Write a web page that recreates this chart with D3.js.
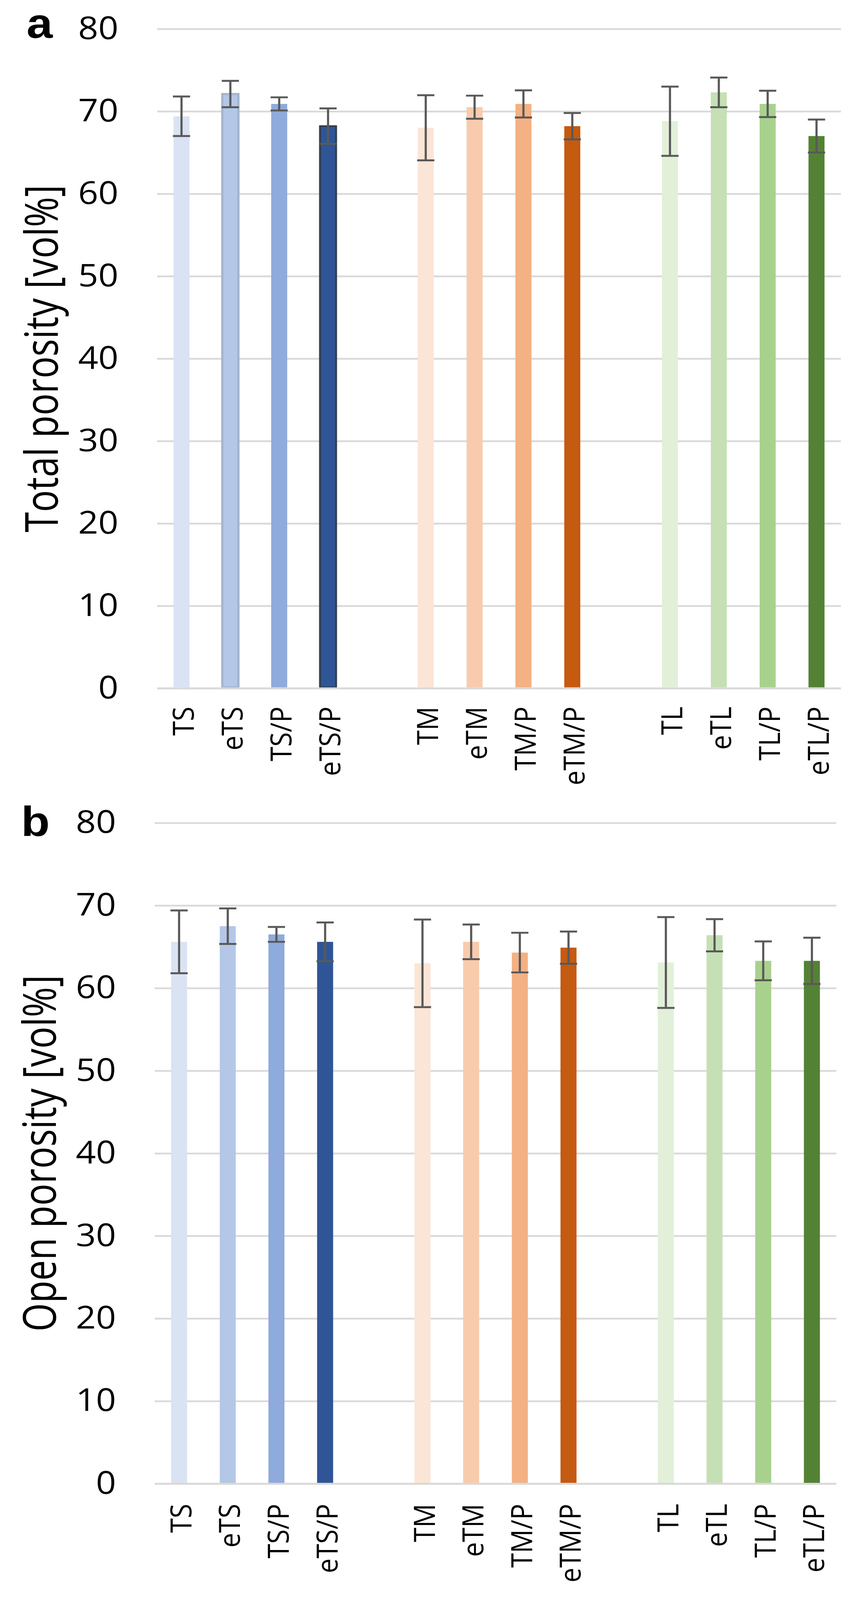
<!DOCTYPE html>
<html>
<head>
<meta charset="utf-8">
<script src="https://cdn.jsdelivr.net/npm/d3@7"></script>
<style>
  html, body { margin: 0; padding: 0; background: #ffffff; overflow: hidden; }
  svg { display: block; }
</style>
</head>
<body>
<div id="chart"></div>
<script>
// ---------------- data ----------------
const sampleLabels = ["TS", "eTS", "TS/P", "eTS/P", "TM", "eTM", "TM/P", "eTM/P", "TL", "eTL", "TL/P", "eTL/P"];
const groupSize = 4;
const yTicks = [0, 10, 20, 30, 40, 50, 60, 70, 80];

const totalPorosity = [69.4, 72.1, 70.9, 68.2, 68.0, 70.5, 70.9, 68.2, 68.8, 72.3, 70.9, 67.0];
const totalPorosityErr = [2.4, 1.6, 0.8, 2.15, 3.95, 1.4, 1.65, 1.6, 4.2, 1.8, 1.6, 2.0];

const openPorosity = [65.6, 67.5, 66.5, 65.6, 63.0, 65.6, 64.3, 64.9, 63.1, 66.4, 63.3, 63.3];
const openPorosityErr = [3.8, 2.15, 0.9, 2.35, 5.3, 2.1, 2.4, 1.95, 5.5, 1.95, 2.35, 2.8];

// ---------------- styles ----------------
const barColors = ["#DAE3F3", "#B4C7E7", "#8FAADC", "#2F5597",
                   "#FBE5D6", "#F8CBAD", "#F4B183", "#C55A11",
                   "#E2F0D9", "#C5E0B4", "#A9D18E", "#548235"];
const outlineA = { "eTS": "#A6B5CF", "eTS/P": "#333F50" };

const W = 2188, H = 4540;
const FONT = "'Open Sans', 'Segoe UI', 'Noto Sans', sans-serif";

const panels = [
  { letter: "a", title: "Total porosity [vol%]", values: totalPorosity, errors: totalPorosityErr,
    left: 402, right: 2152, top: 82, bottom: 1953, labelTop: 2005,
    letterX: 68, letterY: 108, titleX: 148, outlines: outlineA },
  { letter: "b", title: "Open porosity [vol%]", values: openPorosity, errors: openPorosityErr,
    left: 396, right: 2140, top: 2335, bottom: 4210, labelTop: 4267,
    letterX: 54, letterY: 2372, titleX: 143, outlines: {} }
];

// x domain: the three groups are separated by one empty slot
const slots = [];
sampleLabels.forEach((l, i) => {
  if (i > 0 && i % groupSize === 0) slots.push("__gap" + i);
  slots.push(l);
});

// fit the whole 2188x4540 drawing inside the visible window
const vw = window.innerWidth || W;
const vh = window.innerHeight || H;
const svg = d3.select("#chart").append("svg")
  .attr("width", Math.min(W, vw)).attr("height", Math.min(H, vh))
  .attr("viewBox", `0 0 ${W} ${H}`)
  .attr("preserveAspectRatio", "none");

svg.append("rect").attr("width", W).attr("height", H).attr("fill", "#fff");

const barW = 41, capW = 44, errStroke = 5.5;

panels.forEach(p => {
  const g = svg.append("g");
  const x = d3.scaleBand().domain(slots).range([p.left, p.right]).paddingInner(0).paddingOuter(0);
  const y = d3.scaleLinear().domain([0, 80]).range([p.bottom, p.top]);
  const cx = d => x(d) + x.bandwidth() / 2;

  // gridlines + tick labels
  const axis = d3.axisLeft(y).tickValues(yTicks).tickSizeInner(-(p.right - p.left)).tickSizeOuter(0).tickPadding(99);
  const ag = g.append("g").attr("transform", `translate(${p.left},0)`).call(axis);
  ag.select(".domain").remove();
  ag.selectAll(".tick line").attr("stroke", "#D9D9D9").attr("stroke-width", 5);
  ag.selectAll(".tick text").attr("font-family", FONT).attr("font-size", 90)
    .attr("fill", "#000").attr("dy", "0.31em");

  const data = sampleLabels.map((l, i) => ({ label: l, v: p.values[i], e: p.errors[i], color: barColors[i] }));

  // bars
  g.append("g").selectAll("rect").data(data).join("rect")
    .attr("x", d => cx(d.label) - barW / 2)
    .attr("width", barW)
    .attr("y", d => y(d.v))
    .attr("height", d => y(0) - y(d.v) - 2.5)
    .attr("fill", d => d.color)
    .attr("stroke", d => p.outlines[d.label] || "none")
    .attr("stroke-width", d => p.outlines[d.label] ? (d.label === "eTS" ? 6 : 5) : 0);

  // zero line on top of the bars
  g.append("line").attr("x1", p.left).attr("x2", p.right)
    .attr("y1", y(0)).attr("y2", y(0)).attr("stroke", "#D9D9D9").attr("stroke-width", 5);

  // error bars
  const eg = g.append("g").attr("stroke", "#595959").attr("stroke-width", errStroke).attr("fill", "none");
  eg.selectAll("line.stem").data(data).join("line").attr("class", "stem")
    .attr("x1", d => cx(d.label)).attr("x2", d => cx(d.label))
    .attr("y1", d => y(d.v + d.e)).attr("y2", d => y(d.v - d.e));
  eg.selectAll("line.capt").data(data).join("line").attr("class", "capt")
    .attr("x1", d => cx(d.label) - capW / 2).attr("x2", d => cx(d.label) + capW / 2)
    .attr("y1", d => y(d.v + d.e)).attr("y2", d => y(d.v + d.e));
  eg.selectAll("line.capb").data(data).join("line").attr("class", "capb")
    .attr("x1", d => cx(d.label) - capW / 2).attr("x2", d => cx(d.label) + capW / 2)
    .attr("y1", d => y(d.v - d.e)).attr("y2", d => y(d.v - d.e));

  // rotated category labels
  g.append("g").selectAll("text").data(data).join("text")
    .attr("transform", d => `translate(${cx(d.label)},${p.labelTop}) rotate(-90)`)
    .attr("text-anchor", "end")
    .attr("dy", "0.42em")
    .attr("font-family", FONT).attr("font-size", 75).attr("fill", "#000")
    .text(d => d.label);

  // y axis title
  g.append("text")
    .attr("transform", `translate(${p.titleX},${(p.top + p.bottom) / 2}) rotate(-90) scale(1,1.12)`)
    .attr("text-anchor", "middle")
    .attr("font-family", FONT).attr("font-size", 104).attr("fill", "#000")
    .text(p.title);

  // panel letter
  g.append("text")
    .attr("x", p.letterX).attr("y", p.letterY)
    .attr("font-family", "'Liberation Sans', Arial, sans-serif").attr("font-weight", "bold")
    .attr("font-size", 120).attr("fill", "#000")
    .text(p.letter);
});
</script>
</body>
</html>
